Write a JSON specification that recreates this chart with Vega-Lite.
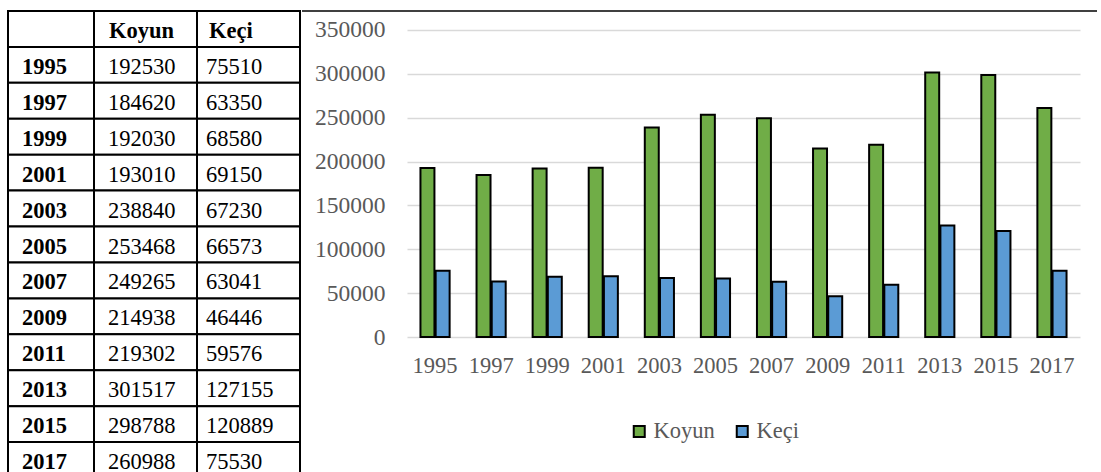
{
  "$schema": "https://vega.github.io/schema/vega-lite/v6.json",
  "padding": {"left": 7, "top": 10, "right": 0, "bottom": 0},
  "config": {"view": {"stroke": null}, "font": "Times New Roman, Liberation Serif, serif"},
  "datasets": {
    "tbl": [
      {"yil": "1995", "Koyun": 192530, "Keçi": 75510},
      {"yil": "1997", "Koyun": 184620, "Keçi": 63350},
      {"yil": "1999", "Koyun": 192030, "Keçi": 68580},
      {"yil": "2001", "Koyun": 193010, "Keçi": 69150},
      {"yil": "2003", "Koyun": 238840, "Keçi": 67230},
      {"yil": "2005", "Koyun": 253468, "Keçi": 66573},
      {"yil": "2007", "Koyun": 249265, "Keçi": 63041},
      {"yil": "2009", "Koyun": 214938, "Keçi": 46446},
      {"yil": "2011", "Koyun": 219302, "Keçi": 59576},
      {"yil": "2013", "Koyun": 301517, "Keçi": 127155},
      {"yil": "2015", "Koyun": 298788, "Keçi": 120889},
      {"yil": "2017", "Koyun": 260988, "Keçi": 75530}
    ]
  },
  "spacing": 0,
  "hconcat": [
    {
      "spacing": 0,
      "bounds": "flush",
      "hconcat": [
        {
          "width": 86, "height": 467,
          "data": {"name": "tbl"},
          "layer": [
            {
              "mark": {"type": "rect", "fill": "white", "stroke": "black", "strokeWidth": 2},
              "encoding": {
                "x": {"value": 0}, "x2": {"value": "width"},
                "y": {"field": "yil", "type": "ordinal", "axis": null,
                      "scale": {"domain": ["H","1995","1997","1999","2001","2003","2005","2007","2009","2011","2013","2015","2017"], "paddingInner": 0, "paddingOuter": 0}}
              }
            },
            {
              "data": {"values": [{}]},
              "mark": {"type": "rect", "fill": "white", "stroke": "black", "strokeWidth": 2},
              "encoding": {"x": {"value": 0}, "x2": {"value": "width"}, "y": {"datum": "H", "type": "ordinal"}}
            },
            {
              "mark": {"type": "text", "font": "Times New Roman, Liberation Serif, serif", "align": "left", "baseline": "middle", "dx": 14, "dy": 2, "fontSize": 22.5, "fontWeight": "bold", "color": "black"},
              "encoding": {"x": {"value": 0}, "y": {"field": "yil", "type": "ordinal"}, "text": {"field": "yil"}}
            }
          ]
        },
        {
          "width": 103, "height": 467,
          "data": {"name": "tbl"},
          "layer": [
            {
              "mark": {"type": "rect", "fill": "white", "stroke": "black", "strokeWidth": 2},
              "encoding": {
                "x": {"value": 0}, "x2": {"value": "width"},
                "y": {"field": "yil", "type": "ordinal", "axis": null,
                      "scale": {"domain": ["H","1995","1997","1999","2001","2003","2005","2007","2009","2011","2013","2015","2017"], "paddingInner": 0, "paddingOuter": 0}}
              }
            },
            {
              "data": {"values": [{}]},
              "layer": [
                {"mark": {"type": "rect", "fill": "white", "stroke": "black", "strokeWidth": 2},
                 "encoding": {"x": {"value": 0}, "x2": {"value": "width"}, "y": {"datum": "H", "type": "ordinal"}}},
                {"mark": {"type": "text", "font": "Times New Roman, Liberation Serif, serif", "align": "left", "baseline": "middle", "dx": 15, "dy": 2, "fontSize": 22.5, "fontWeight": "bold", "color": "black"},
                 "encoding": {"x": {"value": 0}, "y": {"datum": "H", "type": "ordinal"}, "text": {"value": "Koyun"}}}
              ]
            },
            {
              "mark": {"type": "text", "font": "Times New Roman, Liberation Serif, serif", "align": "left", "baseline": "middle", "dx": 14, "dy": 2, "fontSize": 22.5, "color": "black"},
              "encoding": {"x": {"value": 0}, "y": {"field": "yil", "type": "ordinal"}, "text": {"field": "Koyun"}}
            }
          ]
        },
        {
          "width": 103, "height": 467,
          "data": {"name": "tbl"},
          "layer": [
            {
              "mark": {"type": "rect", "fill": "white", "stroke": "black", "strokeWidth": 2},
              "encoding": {
                "x": {"value": 0}, "x2": {"value": "width"},
                "y": {"field": "yil", "type": "ordinal", "axis": null,
                      "scale": {"domain": ["H","1995","1997","1999","2001","2003","2005","2007","2009","2011","2013","2015","2017"], "paddingInner": 0, "paddingOuter": 0}}
              }
            },
            {
              "data": {"values": [{}]},
              "layer": [
                {"mark": {"type": "rect", "fill": "white", "stroke": "black", "strokeWidth": 2},
                 "encoding": {"x": {"value": 0}, "x2": {"value": "width"}, "y": {"datum": "H", "type": "ordinal"}}},
                {"mark": {"type": "text", "font": "Times New Roman, Liberation Serif, serif", "align": "left", "baseline": "middle", "dx": 12, "dy": 2, "fontSize": 22.5, "fontWeight": "bold", "color": "black"},
                 "encoding": {"x": {"value": 0}, "y": {"datum": "H", "type": "ordinal"}, "text": {"value": "Keçi"}}}
              ]
            },
            {
              "mark": {"type": "text", "font": "Times New Roman, Liberation Serif, serif", "align": "left", "baseline": "middle", "dx": 9, "dy": 2, "fontSize": 22.5, "color": "black"},
              "encoding": {"x": {"value": 0}, "y": {"field": "yil", "type": "ordinal"}, "text": {"field": "Keçi"}}
            }
          ]
        }
      ]
    },
    {
      "width": 673, "height": 326,
      "layer": [
        {
          "data": {"name": "tbl"},
          "transform": [{"fold": ["Koyun", "Keçi"], "as": ["tur", "deger"]}],
          "mark": {"type": "bar", "stroke": "black", "strokeWidth": 2},
          "encoding": {
            "x": {"field": "yil", "type": "ordinal",
                  "scale": {"paddingInner": 0.48, "paddingOuter": 0.24},
                  "axis": {"title": null, "labelAngle": 0, "domain": false, "ticks": false, "labelPadding": 17,
                           "labelFont": "Times New Roman, Liberation Serif, serif", "labelFontSize": 22.5, "labelColor": "#595959"}},
            "xOffset": {"field": "tur", "type": "nominal", "sort": ["Koyun", "Keçi"], "scale": {"paddingInner": 0.08}},
            "y": {"field": "deger", "type": "quantitative",
                  "scale": {"domain": [0, 371640], "nice": false},
                  "axis": {"title": null, "values": [0, 50000, 100000, 150000, 200000, 250000, 300000, 350000], "format": "d",
                           "domain": false, "ticks": false, "labelPadding": 22, "grid": true, "gridColor": "#D9D9D9", "gridWidth": 1.5,
                           "labelFont": "Times New Roman, Liberation Serif, serif", "labelFontSize": 23.5, "labelColor": "#595959"}},
            "color": {"field": "tur", "type": "nominal", "sort": ["Koyun", "Keçi"],
                      "scale": {"domain": ["Koyun", "Keçi"], "range": ["#70AD47", "#5B9BD5"]},
                      "legend": {"orient": "none", "legendX": 620, "legendY": 409, "direction": "horizontal", "title": null,
                                 "symbolType": "square", "symbolSize": 121, "symbolStrokeColor": "black", "symbolStrokeWidth": 2,
                                 "symbolOpacity": 1, "labelFont": "Times New Roman, Liberation Serif, serif", "labelFontSize": 22.5, "labelColor": "#595959",
                                 "columnPadding": 16, "labelOffset": 3, "padding": 0}}
          }
        },
        {
          "data": {"values": [{}]},
          "mark": {"type": "rule", "color": "black", "strokeWidth": 1.5},
          "encoding": {
            "y": {"datum": 371640, "type": "quantitative"},
            "x": {"datum": 0, "type": "quantitative", "scale": {"domain": [0, 1], "range": [-105, 690]}, "axis": null},
            "x2": {"datum": 1}
          }
        }
      ],
      "resolve": {"scale": {"x": "independent"}}
    }
  ]
}
